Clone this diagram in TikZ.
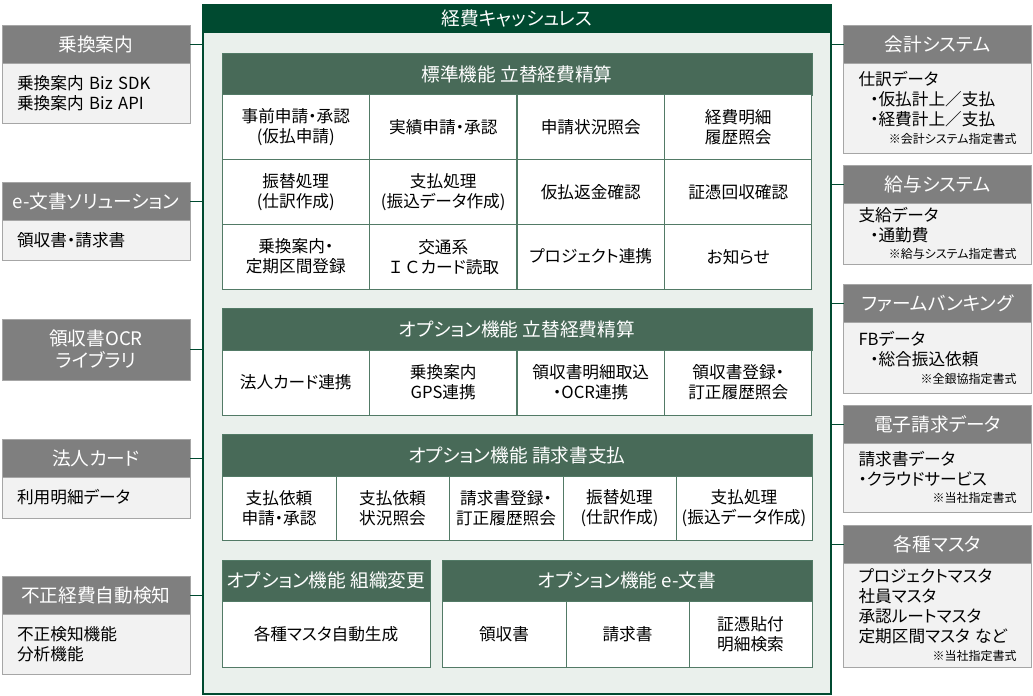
\documentclass[tikz,border=0pt]{standalone}
\usepackage{fontspec}
\setmainfont{Noto Sans CJK JP}[RawFeature=+palt]
\newfontfamily\fullwidthjp{Noto Sans CJK JP}
\usetikzlibrary{positioning}

\definecolor{kcgreen}{HTML}{004A30}
\definecolor{kchead}{HTML}{486A58}
\definecolor{kcback}{HTML}{EAF0EC}
\definecolor{kcline}{HTML}{527A66}
\definecolor{sidegray}{HTML}{7F7F7F}
\definecolor{sideback}{HTML}{F2F2F2}
\definecolor{sideline}{HTML}{A6A6A6}

\newcommand{\headfont}{\fontsize{14pt}{16.5pt}\selectfont}
\newcommand{\cellfont}{\fontsize{12.5pt}{15pt}\selectfont}
\newcommand{\notefont}{\fontsize{9pt}{11pt}\selectfont}

\tikzset{
  mainframe/.style={draw=kcgreen, line width=1.5pt, fill=kcback, minimum width=471pt, minimum height=516.75pt, inner sep=0pt, outer sep=0pt},
  mainhead/.style={fill=kcgreen, text=white, font=\headfont, minimum width=471pt, minimum height=21pt, inner sep=0pt, outer sep=0pt},
  sechead/.style={fill=kchead, draw=kcline, line width=0.75pt, text=white, font=\headfont, minimum height=31.5pt, inner sep=0pt, outer sep=0pt},
  cell/.style={fill=white, draw=kcline, line width=0.75pt, font=\cellfont, align=center, inner sep=0pt, outer sep=0pt},
  stdcell/.style={cell, minimum width=110.6pt, minimum height=48.5pt},
  sidetitle/.style={fill=sidegray, draw=sideline, line width=0.75pt, text=white, font=\headfont, align=center, minimum width=141pt, minimum height=28.5pt, inner sep=0pt, outer sep=0pt},
  sidebody/.style={fill=sideback, draw=sideline, line width=0.75pt, font=\cellfont, align=left, text width=118.5pt, inner xsep=11.25pt, inner ysep=0pt, outer sep=0pt},
  link/.style={draw=kcgreen, line width=0.75pt}
}

\begin{document}
\begin{tikzpicture}[x=0.75pt, y=-0.75pt]
    \useasboundingbox (0,0) rectangle (1033,696);

    % Main frame
    \node[mainframe] (main) at (517,349.5) {};
    \node[mainhead] (mainTitle) at (517,19) {経費キャッシュレス};

    % Standard functions
    \node[sechead, minimum width=442.5pt] (stdHead) at (517,74) {標準機能 立替経費精算};
    \node[stdcell] (std11) at (295.75,127.33) {事前申請・承認\\(仮払申請)};
    \node[stdcell] (std12) at (443.25,127.33) {実績申請・承認};
    \node[stdcell] (std13) at (590.75,127.33) {申請状況照会};
    \node[stdcell] (std14) at (738.25,127.33) {経費明細\\履歴照会};
    \node[stdcell] (std21) at (295.75,192) {振替処理\\(仕訳作成)};
    \node[stdcell] (std22) at (443.25,192) {支払処理\\(振込データ作成)};
    \node[stdcell] (std23) at (590.75,192) {仮払返金確認};
    \node[stdcell] (std24) at (738.25,192) {証憑回収確認};
    \node[stdcell] (std31) at (295.75,256.67) {乗換案内・\\定期区間登録};
    \node[stdcell] (std32) at (443.25,256.67) {交通系\\{\fullwidthjp ＩＣ}カード読取};
    \node[stdcell] (std33) at (590.75,256.67) {プロジェクト連携};
    \node[stdcell] (std34) at (738.25,256.67) {お知らせ};

    % Option: expense settlement
    \node[sechead, minimum width=442.5pt] (optHead) at (517,329) {オプション機能 立替経費精算};
    \node[stdcell, minimum height=48.75pt] (opt1) at (295.75,382.5) {法人カード連携};
    \node[stdcell, minimum height=48.75pt] (opt2) at (443.25,382.5) {乗換案内\\GPS連携};
    \node[stdcell, minimum height=48.75pt] (opt3) at (590.75,382.5) {領収書明細取込\\・OCR連携};
    \node[stdcell, minimum height=48.75pt] (opt4) at (738.25,382.5) {領収書登録・\\訂正履歴照会};

    % Option: invoice payment
    \node[sechead, minimum width=442.5pt] (invHead) at (517,455) {オプション機能 請求書支払};
    \node[cell, minimum width=85.5pt, minimum height=48pt] (inv1) at (279,508) {支払依頼\\申請・承認};
    \node[cell, minimum width=84.75pt, minimum height=48pt] (inv2) at (392.5,508) {支払依頼\\状況照会};
    \node[cell, minimum width=85.5pt, minimum height=48pt] (inv3) at (506,508) {請求書登録・\\訂正履歴照会};
    \node[cell, minimum width=84.75pt, minimum height=48pt] (inv4) at (619.5,508) {振替処理\\(仕訳作成)};
    \node[cell, minimum width=102pt, minimum height=48pt] (inv5) at (744,508) {支払処理\\(振込データ作成)};

    % Option: organisation change
    \node[sechead, minimum width=156pt, minimum height=30.75pt] (orgHead) at (326,580.5) {オプション機能 組織変更};
    \node[cell, minimum width=156pt, minimum height=49.5pt] (org1) at (326,634) {各種マスタ自動生成};

    % Option: e-documents
    \node[sechead, minimum width=277.5pt, minimum height=30.75pt] (edocHead) at (627,580.5) {オプション機能 e-文書};
    \node[cell, minimum width=93pt, minimum height=49.5pt] (edoc1) at (504,634) {領収書};
    \node[cell, minimum width=92.25pt, minimum height=49.5pt] (edoc2) at (627.5,634) {請求書};
    \node[cell, minimum width=92.25pt, minimum height=49.5pt] (edoc3) at (750.5,634) {証憑貼付\\明細検索};

    % Left side systems
    \node[sidetitle] (lTitle1) at (96,44) {乗換案内};
    \node[sidebody, minimum height=45pt, below=0pt of lTitle1] (lBody1) {乗換案内 Biz SDK\\乗換案内 Biz API};
    \node[sidetitle] (lTitle2) at (96,201) {e-文書ソリューション};
    \node[sidebody, minimum height=30pt, below=0pt of lTitle2] (lBody2) {領収書・請求書};
    \node[sidetitle, minimum height=45.75pt] (lTitle3) at (96,349.5) {領収書OCR\\ライブラリ};
    \node[sidetitle] (lTitle4) at (96,458) {法人カード};
    \node[sidebody, minimum height=30.75pt, below=0pt of lTitle4] (lBody4) {利用明細データ};
    \node[sidetitle] (lTitle5) at (96,595.5) {不正経費自動検知};
    \node[sidebody, minimum height=45pt, below=0pt of lTitle5] (lBody5) {不正検知機能\\分析機能};

    % Right side systems
    \node[sidetitle] (rTitle1) at (937.5,44) {会計システム};
    \node[sidebody, minimum height=67.5pt, below=0pt of rTitle1] (rBody1) {仕訳データ\\\hspace*{0.7em}・仮払計上／支払\\\hspace*{0.7em}・経費計上／支払\\[-2pt]\mbox{}\hfill{\notefont ※会計システム指定書式}\hspace*{-6pt}};
    \node[sidetitle] (rTitle2) at (937.5,184) {給与システム};
    \node[sidebody, minimum height=45.75pt, below=0pt of rTitle2] (rBody2) {支給データ\\\hspace*{0.7em}・通勤費\\[-2pt]\mbox{}\hfill{\notefont ※給与システム指定書式}\hspace*{-6pt}};
    \node[sidetitle] (rTitle3) at (937.5,303.5) {ファームバンキング};
    \node[sidebody, minimum height=53.25pt, below=0pt of rTitle3] (rBody3) {FBデータ\\\hspace*{0.7em}・総合振込依頼\\[-2pt]\mbox{}\hfill{\notefont ※全銀協指定書式}};
    \node[sidetitle] (rTitle4) at (937.5,424) {電子請求データ};
    \node[sidebody, minimum height=51.75pt, below=0pt of rTitle4] (rBody4) {請求書データ\\・クラウドサービス\\[-2pt]\mbox{}\hfill{\notefont ※当社指定書式}};
    \node[sidetitle] (rTitle5) at (937.5,544) {各種マスタ};
    \node[sidebody, minimum height=78pt, below=0pt of rTitle5] (rBody5) {プロジェクトマスタ\\社員マスタ\\承認ルートマスタ\\定期区間マスタ など\\[-2pt]\mbox{}\hfill{\notefont ※当社指定書式}};

    % Links to the main frame
    \draw[link] (lTitle1.east) -- (lTitle1.east -| main.west);
    \draw[link] (lTitle2.east) -- (lTitle2.east -| main.west);
    \draw[link] (lTitle3.east) -- (lTitle3.east -| main.west);
    \draw[link] (lTitle4.east) -- (lTitle4.east -| main.west);
    \draw[link] (lTitle5.east) -- (lTitle5.east -| main.west);
    \draw[link] (rTitle1.west) -- (rTitle1.west -| main.east);
    \draw[link] (rTitle2.west) -- (rTitle2.west -| main.east);
    \draw[link] (rTitle3.west) -- (rTitle3.west -| main.east);
    \draw[link] (rTitle4.west) -- (rTitle4.west -| main.east);
    \draw[link] (rTitle5.west) -- (rTitle5.west -| main.east);

\end{tikzpicture}
\end{document}
